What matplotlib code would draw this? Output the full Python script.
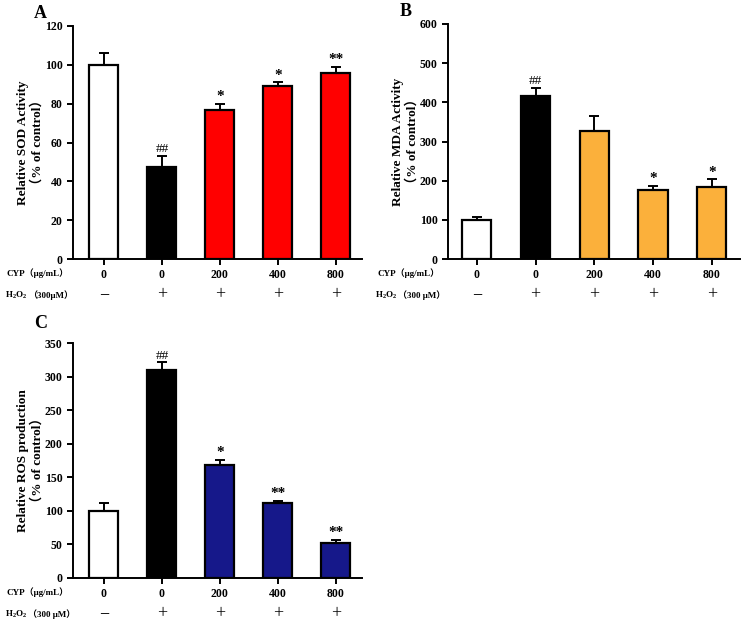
import matplotlib
matplotlib.use("Agg")
import matplotlib.pyplot as plt

plt.rcParams["font.family"] = ["Liberation Serif", "Noto Sans CJK SC"]
plt.rcParams["font.weight"] = "bold"
plt.rcParams["mathtext.fontset"] = "custom"
plt.rcParams["mathtext.rm"] = "Liberation Serif:bold"
plt.rcParams["mathtext.bf"] = "Liberation Serif:bold"

cyp_doses = ["0", "0", "200", "400", "800"]
h2o2_signs = ["\u2212", "+", "+", "+", "+"]

sod_mean = [100, 47.5, 76.5, 89, 96]
sod_err = [6, 5.5, 3.5, 2, 3]
sod_marks = ["", "##", "*", "*", "**"]

mda_mean = [100, 415, 328, 175, 183]
mda_err = [8, 22, 38, 12, 20]
mda_marks = ["", "##", "", "*", "*"]

ros_mean = [100, 310, 169, 111, 52]
ros_err = [12, 11, 7, 4, 5]
ros_marks = ["", "##", "*", "**", "**"]

W, H = 748, 625


def panel(fig, rect, means, errs, marks, colour, ylim, step, ylabel, letter,
          letter_xy, row_x, conc, xlim):
    l, t, r, b = rect
    ax = fig.add_axes([l / W, 1 - b / H, (r - l) / W, (b - t) / H])
    x = range(len(means))
    colours = ["white", "black"] + [colour] * (len(means) - 2)
    ax.bar(x, means, width=0.5, color=colours, edgecolor="black", linewidth=1.6, zorder=2)
    ax.errorbar(x, means, yerr=[[0] * len(errs), errs], fmt="none", ecolor="black",
                elinewidth=1.4, capsize=3.5, capthick=1.4, zorder=3)
    for xi, m, e, s in zip(x, means, errs, marks):
        if s:
            fs = 9.5 if s.startswith("#") else 11
            fw = "normal" if s.startswith("#") else "bold"
            ax.annotate(s, (xi, m + e), xytext=(0, 0.5), textcoords="offset points",
                        ha="center", va="bottom", fontsize=fs, fontweight=fw)
    ax.set_xlim(*xlim)
    ax.set_ylim(*ylim)
    ax.set_yticks(range(ylim[0], ylim[1] + 1, step))
    ax.set_xticks(list(x))
    ax.set_xticklabels(cyp_doses)
    ax.tick_params(axis="x", length=4, width=1.4, labelsize=8.5, pad=3)
    ax.tick_params(axis="y", length=4, width=1.4, labelsize=8.5)
    for lab in ax.get_xticklabels() + ax.get_yticklabels():
        lab.set_fontweight("bold")
    for sp in ["top", "right"]:
        ax.spines[sp].set_visible(False)
    for sp in ["left", "bottom"]:
        ax.spines[sp].set_linewidth(1.4)
    ax.set_ylabel(ylabel, fontsize=9.5, fontweight="bold", labelpad=0.5, linespacing=1.25)
    trans = ax.get_xaxis_transform()
    for xi, s in zip(x, h2o2_signs):
        ax.text(xi, -36 / (b - t), s, transform=trans, ha="center", va="center",
                fontsize=13, fontweight="normal")
    fig.text(row_x / W, 1 - (b + 14) / H, "CYP（μg/mL）", fontsize=6.5,
             fontweight="bold", va="center", ha="left")
    h = fig.text((row_x - 2) / W, 1 - (b + 36) / H, "H$_\\mathbf{2}$O$_\\mathbf{2}$",
                 fontsize=6.5, va="center", ha="left")
    ax.annotate(conc, xy=(1, 0.5), xycoords=h, xytext=(0.3, 0), textcoords="offset points",
                va="center", ha="left", fontsize=6.5, fontweight="bold",
                annotation_clip=False)
    fig.text(letter_xy[0] / W, 1 - letter_xy[1] / H, letter, fontsize=13,
             fontweight="bold", va="center", ha="left")
    return ax


fig = plt.figure(figsize=(W / 100, H / 100), dpi=100)

panel(fig, (73, 26, 362, 259), sod_mean, sod_err, sod_marks, "#ff0000", (0, 120), 20,
      "Relative SOD Activity\n（% of control）", "A", (34, 13), 7,
      "（300μM）", (-0.534, 4.45))
panel(fig, (448, 24, 740, 259), mda_mean, mda_err, mda_marks, "#fbb03b", (0, 600), 100,
      "Relative MDA Activity\n（% of control）", "B", (400, 12), 377,
      "（300 μM）", (-0.49, 4.48))
panel(fig, (73, 343, 362, 578), ros_mean, ros_err, ros_marks, "#16188a", (0, 350), 50,
      "Relative ROS production\n（% of control）", "C", (34, 324), 7,
      "（300 μM）", (-0.534, 4.45))

fig.savefig("out.png", dpi=100)
